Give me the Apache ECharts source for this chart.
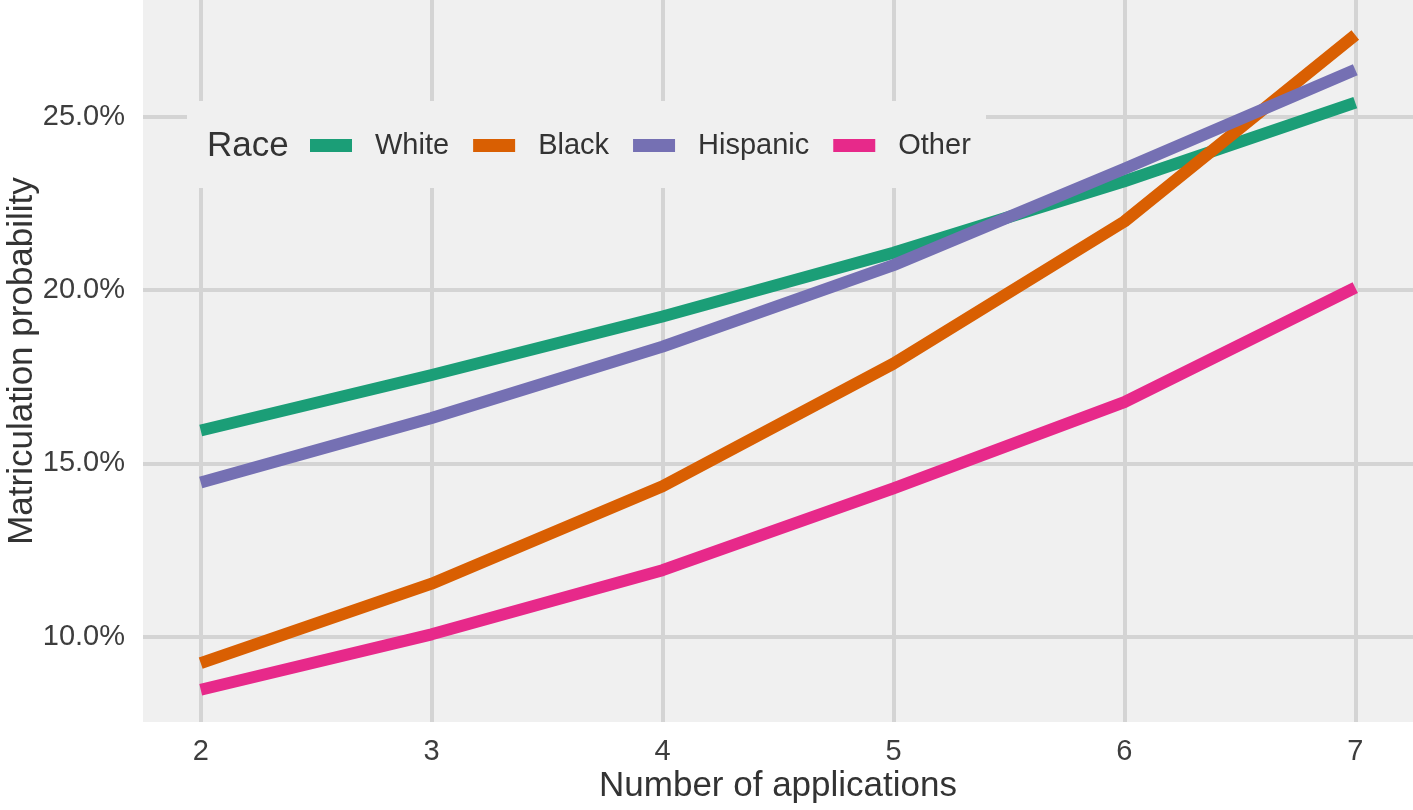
<!DOCTYPE html>
<html>
<head>
<meta charset="utf-8">
<script src="https://cdn.jsdelivr.net/npm/echarts@6/dist/echarts.min.js"></script>
<style>
  html, body { margin: 0; padding: 0; background: #ffffff; }
  #chart { width: 1413px; height: 810px; }
</style>
</head>
<body>
<div id="chart"></div>
<script>
// ---- data ----
const applications = [2, 3, 4, 5, 6, 7];
const xTicks = [2, 3, 4, 5, 6, 7];
const yTicks = [10, 15, 20, 25];
const seriesNames = ['White', 'Black', 'Hispanic', 'Other'];
const white    = [15.95, 17.55, 19.24, 21.08, 23.14, 25.41];
const black    = [9.24, 11.53, 14.34, 17.88, 21.98, 27.36];
const hispanic = [14.45, 16.31, 18.37, 20.72, 23.50, 26.36];
const other    = [8.47, 10.07, 11.92, 14.28, 16.77, 20.07];
const colors = ['#1B9E77', '#D95F02', '#7570B3', '#E7298A'];

const values = [white, black, hispanic, other];
const FONT = '"Liberation Sans", Arial, Helvetica, sans-serif';
const PANEL = '#f0f0f0';
const GRIDLINE = '#d4d4d4';

const chart = echarts.init(document.getElementById('chart'), null, { renderer: 'canvas' });

const series = seriesNames.map((name, i) => ({
  name: name,
  type: 'line',
  data: applications.map((x, j) => [x, values[i][j]]),
  symbol: 'none',
  showSymbol: false,
  smooth: false,
  animation: false,
  z: 3,
  lineStyle: { color: colors[i], width: 12, cap: 'butt', join: 'round' },
  itemStyle: { color: colors[i] }
}));

chart.setOption({
  animation: false,
  backgroundColor: '#ffffff',
  grid: {
    left: 143, right: 0, top: 0, bottom: 88,
    show: true, backgroundColor: PANEL, borderWidth: 0,
    containLabel: false,
    outerBoundsMode: 'none'
  },
  xAxis: {
    type: 'value',
    min: 1.75, max: 7.25,
    name: 'Number of applications',
    nameLocation: 'middle',
    nameGap: 47,
    nameMoveOverlap: false,
    nameTextStyle: { fontFamily: FONT, fontSize: 35, color: '#333333' },
    axisLine: { show: false },
    axisTick: { show: false, customValues: xTicks },
    axisLabel: {
      customValues: xTicks,
      margin: 15,
      fontFamily: FONT, fontSize: 29, color: '#3d3d3d',
      formatter: v => String(v)
    },
    splitLine: { show: true, lineStyle: { color: GRIDLINE, width: 4 } }
  },
  yAxis: {
    type: 'value',
    min: 7.54, max: 28.37,
    name: 'Matriculation probability',
    nameLocation: 'middle',
    nameGap: 103,
    nameMoveOverlap: false,
    nameTextStyle: { fontFamily: FONT, fontSize: 35, color: '#333333' },
    axisLine: { show: false },
    axisTick: { show: false, customValues: yTicks },
    axisLabel: {
      customValues: yTicks,
      margin: 18,
      fontFamily: FONT, fontSize: 29, color: '#3d3d3d',
      formatter: v => v.toFixed(1) + '%'
    },
    splitLine: { show: true, lineStyle: { color: GRIDLINE, width: 4 } }
  },
  legend: {
    data: seriesNames.map(n => ({ name: n, icon: 'rect' })),
    orient: 'horizontal',
    left: 310, top: 131,
    padding: 0,
    itemWidth: 42, itemHeight: 13,
    itemGap: 24,
    selectedMode: false,
    textStyle: { fontFamily: FONT, fontSize: 29, color: '#333333', padding: [0, 0, 0, 18] }
  },
  graphic: [
    {
      type: 'rect', z: 1, silent: true,
      shape: { x: 187, y: 101, width: 799, height: 87 },
      style: { fill: PANEL }
    },
    {
      type: 'text', z: 5, silent: true,
      x: 207, y: 146,
      style: {
        text: 'Race', fontFamily: FONT, fontSize: 35, fill: '#333333',
        textAlign: 'left', textVerticalAlign: 'middle'
      }
    }
  ],
  series: series
});
</script>
</body>
</html>
